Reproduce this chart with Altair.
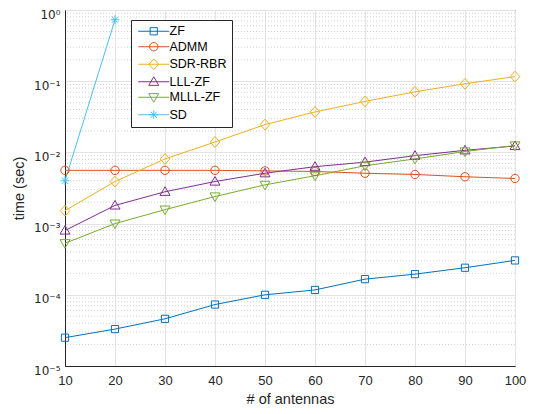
import altair as alt
import pandas as pd

# ---------------- data ----------------
antennas = [10, 20, 30, 40, 50, 60, 70, 80, 90, 100]
zf = [2.5e-5, 3.3e-5, 4.6e-5, 7.3e-5, 1.0e-4, 1.17e-4, 1.66e-4, 1.95e-4, 2.4e-4, 3.04e-4]
admm = [5.6e-3, 5.6e-3, 5.6e-3, 5.6e-3, 5.5e-3, 5.4e-3, 5.1e-3, 4.9e-3, 4.55e-3, 4.3e-3]
sdr_rbr = [1.52e-3, 3.9e-3, 8.1e-3, 1.4e-2, 2.46e-2, 3.7e-2, 5.2e-2, 7.1e-2, 9.2e-2, 0.116]
lll_zf = [8.0e-4, 1.8e-3, 2.8e-3, 3.9e-3, 5.1e-3, 6.3e-3, 7.3e-3, 9.0e-3, 1.07e-2, 1.23e-2]
mlll_zf = [5.3e-4, 1.0e-3, 1.57e-3, 2.4e-3, 3.5e-3, 4.7e-3, 6.5e-3, 8.1e-3, 1.03e-2, 1.25e-2]
sd_antennas = [10, 20]
sd = [4.0e-3, 0.73]

series_names = ["ZF", "ADMM", "SDR-RBR", "LLL-ZF", "MLLL-ZF", "SD"]
series_colors = ["#0072BD", "#D95319", "#EDB120", "#7E2F8E", "#77AC30", "#4DBEEE"]
series_markers = ["square", "circle", "diamond", "up", "down", "asterisk"]

x_tick_values = [10, 20, 30, 40, 50, 60, 70, 80, 90, 100]
y_tick_values = [1e-5, 1e-4, 1e-3, 1e-2, 1e-1, 1.0]
y_tick_labels = ["10⁻⁵", "10⁻⁴", "10⁻³", "10⁻²", "10⁻¹", "10⁰"]
minor_multipliers = [2, 3, 4, 5, 6, 7, 8, 9]
minor_decades = [1e-5, 1e-4, 1e-3, 1e-2, 1e-1]

# ---------------- build tables ----------------
rows = []
for name, xs, ys in [
    ("ZF", antennas, zf),
    ("ADMM", antennas, admm),
    ("SDR-RBR", antennas, sdr_rbr),
    ("LLL-ZF", antennas, lll_zf),
    ("MLLL-ZF", antennas, mlll_zf),
    ("SD", sd_antennas, sd),
]:
    for x, y in zip(xs, ys):
        rows.append({"series": name, "antennas": x, "time": y})
df = pd.DataFrame(rows)

minor_df = pd.DataFrame({"time": [m * d for d in minor_decades for m in minor_multipliers]})


# ---------------- marker glyphs (unit coordinates) ----------------
def marker(kind, cx=0.0):
    if kind == "square":
        s = 0.9
        return f"M{cx-s},{-s}H{cx+s}V{s}H{cx-s}Z"
    if kind == "circle":
        r = 1.05
        return f"M{cx+r},0A{r},{r} 0 1,1 {cx-r},0A{r},{r} 0 1,1 {cx+r},0Z"
    if kind == "diamond":
        w, h = 1.2, 1.35
        return f"M{cx},{-h}L{cx+w},0L{cx},{h}L{cx-w},0Z"
    if kind == "up":
        w = 1.25
        return f"M{cx},-1.25L{cx+w},0.9L{cx-w},0.9Z"
    if kind == "down":
        w = 1.25
        return f"M{cx},1.25L{cx+w},-0.9L{cx-w},-0.9Z"
    r, d = 1.1, 0.78
    return (f"M{cx-r},0H{cx+r}M{cx},{-r}V{r}"
            f"M{cx-d},{-d}L{cx+d},{d}M{cx-d},{d}L{cx+d},{-d}")


plot_shapes = [marker(k) for k in series_markers]
legend_shapes = ["M-1,0H6.75" + marker(k, 2.875) for k in series_markers]

label_expr = ("[" + ",".join(f"'{t}'" for t in y_tick_labels) + "]"
              "[round(log(datum.value)/LN10)+5]")

FONT = "Liberation Sans"
TXT = "#262626"

x_axis = alt.Axis(values=x_tick_values, title="# of antennas", grid=True,
                  gridColor="#e3e3e3", ticks=False, labelPadding=8,
                  titlePadding=5, labelFlush=False)
x_enc = alt.X("antennas:Q",
              scale=alt.Scale(domain=[10, 100], nice=False, zero=False),
              axis=x_axis)
y_scale = alt.Scale(type="log", domain=[1e-5, 1.0], nice=False)
y_axis = alt.Axis(values=y_tick_values, labelExpr=label_expr, title="time (sec)",
                  grid=True, gridColor="#e3e3e3", ticks=False, labelPadding=5,
                  labelOffset=4, titlePadding=7, labelFlush=False,
                  labelFont="DejaVu Sans", labelFontSize=12)
y_enc = alt.Y("time:Q", scale=y_scale, axis=y_axis)

color_scale = alt.Scale(domain=series_names, range=series_colors)
color_enc = alt.Color("series:N", scale=color_scale, legend=None)

minor = alt.Chart(minor_df).mark_rule(
    color="#d2d2d2", strokeDash=[1, 2], strokeWidth=1
).encode(y=y_enc)

lines = alt.Chart(df).mark_line(strokeWidth=1).encode(
    x=x_enc, y=y_enc, color=color_enc, detail="series:N",
    order="antennas:Q",
)

points = alt.Chart(df).mark_point(filled=False, size=64, strokeWidth=1, opacity=1).encode(
    x=x_enc, y=y_enc, color=color_enc,
    shape=alt.Shape("series:N",
                    scale=alt.Scale(domain=series_names, range=plot_shapes),
                    legend=None),
)

legend_cfg = dict(
    title=None, orient="none", legendX=66, legendY=10,
    strokeColor=TXT, fillColor="white", padding=5, rowPadding=2.5,
    labelOffset=21, symbolSize=64, symbolStrokeWidth=1,
    labelFontSize=12.5, labelFont=FONT, labelColor="#000000",
    symbolFillColor="transparent",
)

legend_layer = alt.Chart(df).mark_point(filled=False, size=64, strokeWidth=1, opacity=1).encode(
    x=x_enc, y=y_enc,
    color=alt.Color("series:N", scale=color_scale, legend=alt.Legend(**legend_cfg)),
    shape=alt.Shape(
        "series:N",
        scale=alt.Scale(domain=series_names, range=legend_shapes),
        legend=alt.Legend(**legend_cfg),
    ),
).transform_filter("false")

chart = alt.layer(minor, lines, points, legend_layer).resolve_scale(
    shape="independent", color="independent"
).properties(
    width=450, height=356,
    padding={"left": 57, "top": 2, "right": 11, "bottom": 40},
    autosize="none",
).configure_view(
    stroke=TXT, strokeWidth=1
).configure_axis(
    domainColor=TXT, labelColor=TXT, titleColor=TXT,
    labelFont=FONT, titleFont=FONT, labelFontSize=13, titleFontSize=14.5,
    titleFontWeight="normal",
)

chart.save("out.html", embed_options={"renderer": "svg", "actions": False})
